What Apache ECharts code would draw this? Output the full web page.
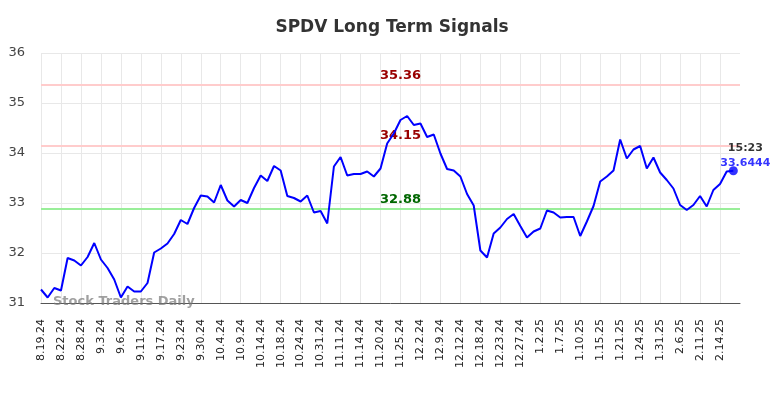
<!DOCTYPE html>
<html>
<head>
<meta charset="utf-8">
<script src="https://cdn.jsdelivr.net/npm/echarts@6/dist/echarts.min.js"></script>
<style>
  html, body { margin: 0; padding: 0; background: #fff; }
  #chart { width: 784px; height: 398px; }
</style>
</head>
<body>
<div id="chart"></div>
<script>
// tick labels shown every 3rd trading day
const tickLabels = ['8.19.24', '8.22.24', '8.28.24', '9.3.24', '9.6.24', '9.11.24', '9.17.24', '9.23.24',
  '9.30.24', '10.4.24', '10.9.24', '10.14.24', '10.18.24', '10.24.24', '10.31.24', '11.11.24', '11.14.24',
  '11.20.24', '11.25.24', '12.2.24', '12.9.24', '12.12.24', '12.18.24', '12.23.24', '12.27.24', '1.2.25',
  '1.7.25', '1.10.25', '1.15.25', '1.21.25', '1.24.25', '1.31.25', '2.6.25', '2.11.25', '2.14.25']

const prices = [
  31.27, 31.11, 31.30, 31.25, 31.90, 31.85, 31.75, 31.92, 32.20, 31.87,
  31.70, 31.47, 31.11, 31.33, 31.23, 31.23, 31.40, 32.01, 32.09, 32.19,
  32.38, 32.66, 32.58, 32.90, 33.15, 33.13, 33.01, 33.36, 33.05, 32.93,
  33.06, 33.00, 33.30, 33.55, 33.44, 33.74, 33.65, 33.14, 33.10, 33.03,
  33.15, 32.81, 32.84, 32.59, 33.73, 33.92, 33.55, 33.58, 33.58, 33.63,
  33.53, 33.69, 34.19, 34.39, 34.66, 34.74, 34.56, 34.59, 34.32, 34.37,
  33.99, 33.68, 33.65, 33.53, 33.18, 32.95, 32.05, 31.91, 32.39, 32.51,
  32.68, 32.78, 32.54, 32.31, 32.43, 32.49, 32.85, 32.81, 32.71, 32.72,
  32.72, 32.34, 32.63, 32.94, 33.43, 33.53, 33.65, 34.27, 33.89, 34.07,
  34.14, 33.69, 33.91, 33.61, 33.46, 33.29, 32.96, 32.86, 32.96, 33.14,
  32.93, 33.26, 33.38, 33.63, 33.6444
]

const resistance = [35.36, 34.15]
const support = [32.88]
const lastTime = '15:23'

// one category per trading day, plus a blank slot at the right end
const categories = []
for (let i = 0; i <= prices.length; i++) {
  categories.push(i % 3 === 0 && i / 3 < tickLabels.length ? tickLabels[i / 3] : '')
}
const showTick = function (idx) {
  return idx % 3 === 0 && idx < prices.length
}

const lastIdx = prices.length - 1
const lastVal = prices[lastIdx]

const lineLabel = function (color) {
  return {
    show: true,
    position: 'insideMiddleTop',
    distance: 3,
    offset: [10, 0],
    color: color,
    fontWeight: 'bold',
    fontSize: 13,
    fontFamily: 'DejaVu Sans',
    formatter: '{c}'
  }
}

const markData = []
resistance.forEach(function (v) {
  markData.push({ yAxis: v, lineStyle: { color: '#ffcccc', width: 2, type: 'solid' }, label: lineLabel('#990000') })
})
support.forEach(function (v) {
  markData.push({ yAxis: v, lineStyle: { color: '#99ee99', width: 2, type: 'solid' }, label: lineLabel('#006600') })
})

const myChart = echarts.init(document.getElementById('chart'))
const option = {
  animation: false,
  backgroundColor: '#fff',
  title: {
    text: 'SPDV Long Term Signals',
    left: 'center',
    top: 14,
    textStyle: {
      fontFamily: 'DejaVu Sans',
      fontWeight: 'bold',
      fontSize: 17,
      color: '#333'
    }
  },
  grid: {
    left: 41,
    right: 44,
    top: 53,
    bottom: 95
  },
  xAxis: {
    type: 'category',
    boundaryGap: false,
    data: categories,
    axisLine: { lineStyle: { color: '#555', width: 1 } },
    axisTick: { show: false },
    axisLabel: {
      interval: showTick,
      rotate: 90,
      color: '#222',
      fontSize: 11,
      fontFamily: 'DejaVu Sans',
      margin: 16
    },
    splitLine: {
      show: true,
      interval: showTick,
      lineStyle: { color: '#e8e8e8', width: 1 }
    }
  },
  yAxis: {
    type: 'value',
    min: 31,
    max: 36,
    interval: 1,
    axisLine: { show: false },
    axisTick: { show: false },
    axisLabel: {
      color: '#444',
      fontSize: 13,
      fontFamily: 'DejaVu Sans',
      margin: 16
    },
    splitLine: { lineStyle: { color: '#e8e8e8', width: 1 } }
  },
  series: [
    {
      type: 'line',
      data: prices,
      showSymbol: false,
      symbol: 'none',
      lineStyle: { color: '#0000ff', width: 2 },
      z: 3,
      markLine: {
        silent: true,
        symbol: 'none',
        data: markData,
        z: 1
      }
    },
    {
      type: 'scatter',
      data: [[lastIdx, lastVal]],
      symbolSize: 9,
      itemStyle: { color: '#0000ff' },
      z: 4,
      label: {
        show: true,
        position: 'top',
        distance: 8,
        align: 'center',
        offset: [12, 12],
        formatter: '{t|' + lastTime + '}\n{v|' + lastVal + '}',
        rich: {
          t: { color: '#000', fontWeight: 'bold', fontSize: 11, fontFamily: 'DejaVu Sans', lineHeight: 15 },
          v: { color: '#0000ff', fontWeight: 'bold', fontSize: 11, fontFamily: 'DejaVu Sans', lineHeight: 15 }
        }
      }
    }
  ],
  graphic: [
    {
      type: 'text',
      left: 53,
      top: 295,
      z: 10,
      style: {
        text: 'Stock Traders Daily',
        font: 'bold 13px DejaVu Sans',
        fill: 'rgba(120,120,120,0.7)'
      }
    }
  ]
}
myChart.setOption(option)
</script>
</body>
</html>
